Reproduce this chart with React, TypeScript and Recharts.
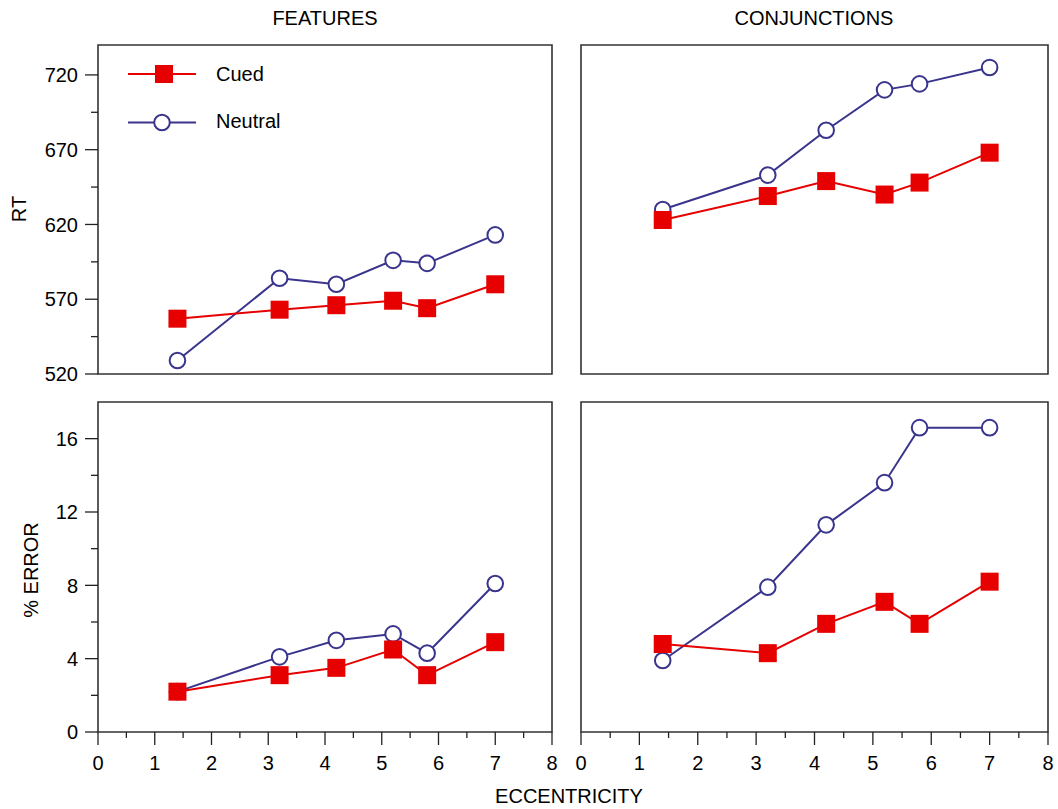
import { LineChart, Line, XAxis, YAxis, ReferenceArea, Legend } from "recharts";

const eccentricity = [1.4, 3.2, 4.2, 5.2, 5.8, 7.0];

const featRtCued = [557, 563, 566, 569, 564, 580];
const featRtNeutral = [529, 584, 580, 596, 594, 613];
const conjRtCued = [623, 639, 649, 640, 648, 668];
const conjRtNeutral = [630, 653, 683, 710, 714, 725];

const featErrCued = [2.2, 3.1, 3.5, 4.5, 3.1, 4.9];
const featErrNeutral = [2.2, 4.1, 5.0, 5.35, 4.3, 8.1];
const conjErrCued = [4.8, 4.3, 5.9, 7.1, 5.9, 8.2];
const conjErrNeutral = [3.9, 7.9, 11.3, 13.6, 16.6, 16.6];

const rtMajorTicks = [520, 570, 620, 670, 720];
const rtMinorTicks = [545, 595, 645, 695];
const errMajorTicks = [0, 4, 8, 12, 16];
const errMinorTicks = [2, 6, 10, 14];
const xMajorTicks = [0, 1, 2, 3, 4, 5, 6, 7, 8];
const xMinorTicks = [0.5, 1.5, 2.5, 3.5, 4.5, 5.5, 6.5, 7.5];

const RED = "#e60000";
const NAVY = "#3a358c";
const FONT = '"Liberation Sans", Arial, sans-serif';

function rows(cued: number[], neutral: number[]) {
  return eccentricity.map((x, i) => ({ x, cued: cued[i], neutral: neutral[i] }));
}

const renderSquare = (p: any) => {
  if (p.cx == null || p.cy == null) return <g key={p.index} />;
  return <rect key={p.index} x={p.cx - 9} y={p.cy - 9} width={18} height={18} fill={RED} />;
};

const renderCircle = (p: any) => {
  if (p.cx == null || p.cy == null) return <g key={p.index} />;
  return <circle key={p.index} cx={p.cx} cy={p.cy} r={7.8} fill="#fff" stroke={NAVY} strokeWidth={2} />;
};

function makeYTick(major: number[]) {
  return (props: any) => {
    const { x, y, payload } = props;
    const isMajor = major.includes(payload.value);
    return (
      <g>
        <line x1={x - (isMajor ? 13 : 7)} x2={x} y1={y} y2={y} stroke="#222" strokeWidth={1.3} />
        {isMajor && (
          <text x={x - 20} y={y} dy="0.36em" textAnchor="end" fontSize={20} fontFamily={FONT} fill="#000">
            {payload.value}
          </text>
        )}
      </g>
    );
  };
}

const XTick = (props: any) => {
  const { x, y, payload } = props;
  const isMajor = xMajorTicks.includes(payload.value);
  return (
    <g>
      <line x1={x} x2={x} y1={y} y2={y + (isMajor ? 13 : 6)} stroke="#222" strokeWidth={1.3} />
      {isMajor && (
        <text x={x} y={y + 38} textAnchor="middle" fontSize={20} fontFamily={FONT} fill="#000">
          {payload.value}
        </text>
      )}
    </g>
  );
};

const LegendBox = () => (
  <svg width={220} height={90} style={{ overflow: "visible" }}>
    <line x1={8} x2={76} y1={19} y2={19} stroke={RED} strokeWidth={2} />
    <rect x={35} y={10} width={18} height={18} fill={RED} />
    <text x={96} y={26} fontSize={20} fontFamily={FONT} fill="#000">Cued</text>
    <line x1={8} x2={76} y1={67.5} y2={67.5} stroke={NAVY} strokeWidth={2} />
    <circle cx={42} cy={67.5} r={7.8} fill="#fff" stroke={NAVY} strokeWidth={2} />
    <text x={96} y={73} fontSize={20} fontFamily={FONT} fill="#000">Neutral</text>
  </svg>
);

interface PanelProps {
  data: { x: number; cued: number; neutral: number }[];
  left: number;
  top: number;
  width: number;
  height: number;
  margin: { top: number; right: number; bottom: number; left: number };
  yDomain: [number, number];
  yTicks: number[];
  yMajor: number[];
  showY: boolean;
  showX: boolean;
  legend?: boolean;
}

function Panel({ data, left, top, width, height, margin, yDomain, yTicks, yMajor, showY, showX, legend }: PanelProps) {
  return (
    <div style={{ position: "absolute", left, top }}>
      <LineChart width={width} height={height} data={data} margin={margin}>
        <XAxis
          dataKey="x"
          type="number"
          domain={[0, 8]}
          ticks={[...xMajorTicks, ...xMinorTicks].sort((a, b) => a - b)}
          interval={0}
          axisLine={false}
          tickLine={false}
          tickSize={0}
          tickMargin={0}
          tick={XTick}
          height={50}
          hide={!showX}
        />
        <YAxis
          type="number"
          domain={yDomain}
          ticks={yTicks}
          interval={0}
          allowDataOverflow
          axisLine={false}
          tickLine={false}
          tickSize={0}
          tickMargin={0}
          tick={makeYTick(yMajor)}
          width={60}
          hide={!showY}
        />
        <ReferenceArea
          x1={0}
          x2={8}
          y1={yDomain[0]}
          y2={yDomain[1]}
          fill="none"
          fillOpacity={0}
          stroke="#333"
          strokeWidth={1.6}
        />
        <Line
          dataKey="neutral"
          stroke={NAVY}
          strokeWidth={2}
          dot={renderCircle}
          activeDot={false}
          isAnimationActive={false}
        />
        <Line
          dataKey="cued"
          stroke={RED}
          strokeWidth={2}
          dot={renderSquare}
          activeDot={false}
          isAnimationActive={false}
        />
        {legend && (
          <Legend
            layout="horizontal"
            verticalAlign="middle"
            align="center"
            content={LegendBox}
            wrapperStyle={{ left: 120, top: 55, width: 220, height: 90 }}
          />
        )}
      </LineChart>
    </div>
  );
}

export default function App() {
  const rtTicks = [...rtMajorTicks, ...rtMinorTicks].sort((a, b) => a - b);
  const errTicks = [...errMajorTicks, ...errMinorTicks].sort((a, b) => a - b);
  return (
    <div style={{ position: "absolute", left: 0, top: 0, width: 1058, height: 809, background: "#fff", fontFamily: FONT }}>
      <svg width={1058} height={809} style={{ position: "absolute", left: 0, top: 0 }}>
        <text x={325} y={25} textAnchor="middle" fontSize={20} fontFamily={FONT}>FEATURES</text>
        <text x={814} y={25} textAnchor="middle" fontSize={20} fontFamily={FONT}>CONJUNCTIONS</text>
        <text x={26} y={209} textAnchor="middle" fontSize={20} fontFamily={FONT} transform="rotate(-90 26 209)">RT</text>
        <text x={38} y={570} textAnchor="middle" fontSize={20} fontFamily={FONT} transform="rotate(-90 38 570)">% ERROR</text>
        <text x={569} y={803} textAnchor="middle" fontSize={20} fontFamily={FONT}>ECCENTRICITY</text>
      </svg>
      <Panel
        data={rows(featRtCued, featRtNeutral)}
        left={0}
        top={0}
        width={560}
        height={390}
        margin={{ top: 45, right: 8, bottom: 16, left: 38 }}
        yDomain={[520, 740]}
        yTicks={rtTicks}
        yMajor={rtMajorTicks}
        showY
        showX={false}
        legend
      />
      <Panel
        data={rows(conjRtCued, conjRtNeutral)}
        left={570}
        top={0}
        width={488}
        height={390}
        margin={{ top: 45, right: 10, bottom: 16, left: 11 }}
        yDomain={[520, 740]}
        yTicks={rtTicks}
        yMajor={rtMajorTicks}
        showY={false}
        showX={false}
      />
      <Panel
        data={rows(featErrCued, featErrNeutral)}
        left={0}
        top={390}
        width={560}
        height={419}
        margin={{ top: 12, right: 8, bottom: 27, left: 38 }}
        yDomain={[0, 18]}
        yTicks={errTicks}
        yMajor={errMajorTicks}
        showY
        showX
      />
      <Panel
        data={rows(conjErrCued, conjErrNeutral)}
        left={570}
        top={390}
        width={488}
        height={419}
        margin={{ top: 12, right: 10, bottom: 27, left: 11 }}
        yDomain={[0, 18]}
        yTicks={errTicks}
        yMajor={errMajorTicks}
        showY={false}
        showX
      />
    </div>
  );
}
